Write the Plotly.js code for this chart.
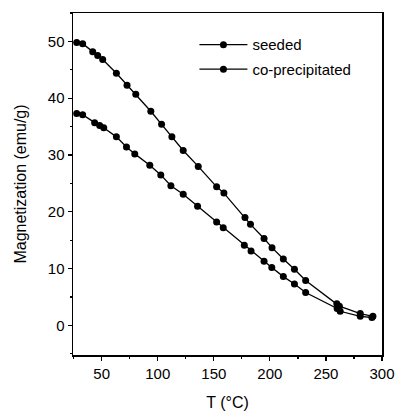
<!DOCTYPE html>
<html>
<head>
<meta charset="utf-8">
<script src="https://cdn.plot.ly/plotly-3.0.1.min.js"></script>
<style>html,body{margin:0;padding:0;background:#fff;}#chart{width:399px;height:417px;}</style>
</head>
<body>
<div id="chart"></div>
<script>
// Seeded sample
const seededT = [27.7, 33, 42, 46.4, 50.9, 63.1, 72.6, 80.4, 93.8, 103.4, 112.6, 122.7, 136.1, 152.5, 159.0, 177.8, 182.7, 194.8, 201.9, 212.0, 221.9, 231.9, 259.7, 262.0, 280.6, 291.9];
const seededM = [49.8, 49.6, 48.2, 47.5, 46.8, 44.4, 42.3, 40.7, 37.7, 35.4, 33.2, 30.8, 28.0, 24.4, 23.3, 19.0, 17.8, 15.3, 13.7, 11.7, 9.9, 7.9, 3.8, 3.4, 2.1, 1.6];
// Co-precipitated sample
const coT = [27.7, 33, 43.7, 48.2, 51.8, 63.1, 72.1, 79.5, 92.9, 102.7, 111.7, 122.7, 135.5, 152.5, 158.4, 177.2, 183.2, 194.8, 201.7, 212.0, 221.9, 231.9, 260.0, 262.7, 280.6, 291.0];
const coM = [37.3, 37.1, 35.7, 35.2, 34.8, 33.2, 31.4, 30.2, 28.2, 26.5, 24.6, 23.1, 21.0, 18.2, 17.2, 14.1, 13.1, 11.3, 10.2, 8.6, 7.3, 5.8, 3.0, 2.5, 1.6, 1.4];
const seriesNames = ["seeded", "co-precipitated"];
const xTickVals = [50, 100, 150, 200, 250, 300];
const yTickVals = [0, 10, 20, 30, 40, 50];

const FONT = "Liberation Sans, Arial, sans-serif";
const mk = {color: "#000", size: 7, symbol: "circle"};
const ln = {color: "#000", width: 1.3};

const traces = [
  {x: seededT, y: seededM, name: seriesNames[0], legendgroup: "a", mode: "lines+markers", marker: mk, line: ln},
  {x: coT, y: coM, name: seriesNames[1], legendgroup: "b", mode: "lines+markers", marker: mk, line: ln}
];

const axisCommon = {
  showline: true, linecolor: "#000", linewidth: 1.5, mirror: true,
  ticks: "outside", ticklen: 4, tickwidth: 1.2, tickcolor: "#000",
  showgrid: false, zeroline: false,
  tickfont: {family: FONT, size: 15, color: "#000"}
};

const layout = {
  width: 399, height: 417,
  margin: {l: 73, r: 17, t: 13, b: 62},
  paper_bgcolor: "#fff", plot_bgcolor: "#fff",
  showlegend: true,
  legend: {x: 0.393, y: 0.955, xanchor: "left", yanchor: "top", bgcolor: "rgba(0,0,0,0)",
           itemwidth: 48, traceorder: "grouped", tracegroupgap: 2,
           font: {family: FONT, size: 15, color: "#000"}},
  xaxis: Object.assign({}, axisCommon, {
    range: [24.4, 300], tickvals: xTickVals,
    minor: {dtick: 25, ticks: "outside", ticklen: 2, tickcolor: "#000"},
    title: {text: "T (°C)", font: {family: FONT, size: 16, color: "#000"}, standoff: 16}
  }),
  yaxis: Object.assign({}, axisCommon, {
    range: [-5.2, 55], tickvals: yTickVals,
    minor: {dtick: 5, ticks: "outside", ticklen: 2, tickcolor: "#000"},
    title: {text: "Magnetization (emu/g)", font: {family: FONT, size: 16, color: "#000"}, standoff: 17}
  })
};

Plotly.newPlot("chart", traces, layout, {displayModeBar: false, staticPlot: true});
</script>
</body>
</html>
